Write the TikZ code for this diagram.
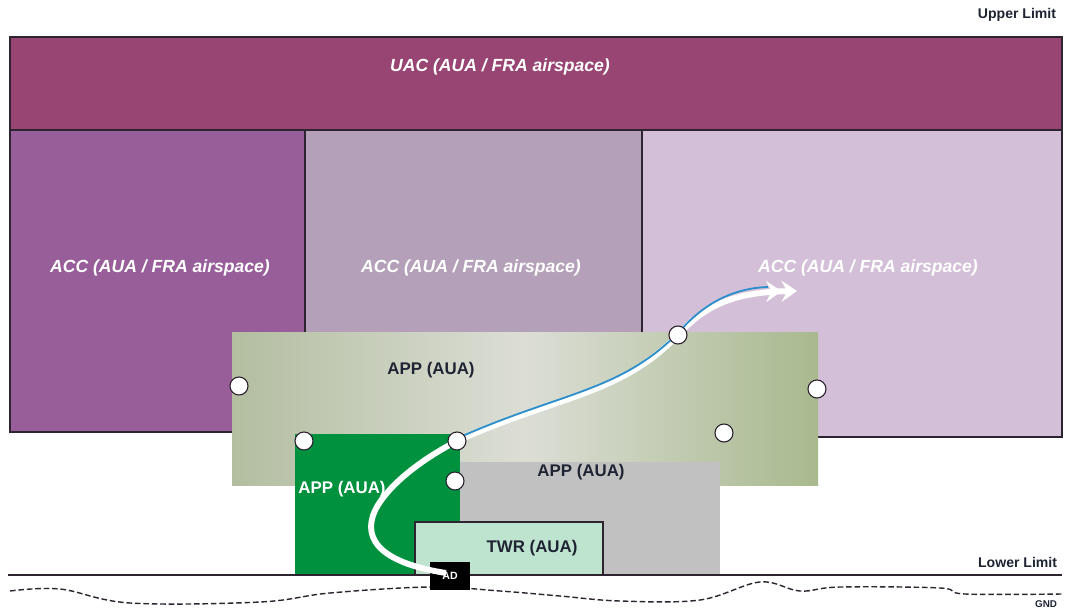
\documentclass[tikz,border=0pt]{standalone}
\usepackage{fontspec}
\setmainfont{Liberation Sans}
\usetikzlibrary{arrows.meta,positioning,calc}
\definecolor{Ink}{HTML}{1F2433}
\definecolor{Edge}{HTML}{2E2430}
\definecolor{Uac}{HTML}{984573}
\definecolor{AccOne}{HTML}{985E9A}
\definecolor{AccTwo}{HTML}{B4A0B8}
\definecolor{AccThree}{HTML}{D4BFD8}
\definecolor{AppLeft}{HTML}{B3BEA0}
\definecolor{AppMid}{HTML}{DCDED6}
\definecolor{AppRight}{HTML}{A8B98E}
\definecolor{AppGreen}{HTML}{00913F}
\definecolor{AppGrey}{HTML}{C1C1C1}
\definecolor{Twr}{HTML}{BEE3CF}
\definecolor{Track}{HTML}{2C8FCC}

\begin{document}
\begin{tikzpicture}[x=0.025cm, y=-0.025cm,
  every node/.style={font=\bfseries\fontsize{12}{14}\selectfont, text=Ink},
  sector/.style={font=\bfseries\itshape\fontsize{12.5}{14}\selectfont, text=white},
  limit/.style={font=\bfseries\fontsize{10}{12}\selectfont, anchor=east},
  spot/.style={circle, draw=Edge, fill=white, line width=0.8pt, minimum size=0.45cm, inner sep=0pt}]
\useasboundingbox (0,0) rectangle (1067,612);
\fill[white] (0,0) rectangle (1067,612);
% upper airspace
\filldraw[fill=Uac, draw=Edge, line width=0.8pt] (10,37) rectangle (1062,130);
\filldraw[fill=AccOne, draw=Edge, line width=0.8pt] (10,130) rectangle (305,432);
\filldraw[fill=AccTwo, draw=Edge, line width=0.8pt] (305,130) rectangle (642,432);
\filldraw[fill=AccThree, draw=Edge, line width=0.8pt] (642,130) rectangle (1062,437);
% approach and tower
\shade[left color=AppLeft, right color=AppRight, middle color=AppMid] (232,332) rectangle (818,485);
\fill[AppGreen] (295,434) rectangle (460,575);
\fill[AppGrey] (460,462) rectangle (720,575);
\filldraw[fill=Twr, draw=Edge, line width=0.8pt] (415,522) rectangle (603,575);
% limits
\draw[Edge, line width=1pt] (8,575) -- (1062,575);
\draw[Edge, line width=1pt, dash pattern=on 4pt off 2pt] plot[smooth, tension=0.6] coordinates {(10,591) (60,589) (130,603) (260,602) (330,593) (430,587) (500,591) (560,596) (620,601) (700,600) (760,582) (800,591) (840,587) (940,588) (965,594) (1062,594)};
\node[limit] (upper) at (1061,15) {Upper Limit};
\node[limit] (lower) at (1062,562) {Lower Limit};
\node[limit, font=\bfseries\fontsize{7}{8}\selectfont] (gnd) at (1062,604) {GND};
\node[fill=black, text=white, font=\bfseries\fontsize{7.5}{8}\selectfont, minimum width=1cm, minimum height=0.7cm, inner sep=0pt] (ad) at (450,576) {AD};
% labels
\node[sector] (uaclbl) at (500,67) {UAC (AUA / FRA airspace)};
\node[sector] (acc1lbl) at (160,268) {ACC (AUA / FRA airspace)};
\node[sector] (acc2lbl) at (471,268) {ACC (AUA / FRA airspace)};
\node[sector] (acc3lbl) at (868,268) {ACC (AUA / FRA airspace)};
\node (applbl) at (431,370) {APP (AUA)};
\node[text=white] (greenlbl) at (342,489) {APP (AUA)};
\node (greylbl) at (581,472) {APP (AUA)};
\node (twrlbl) at (532,548) {TWR (AUA)};
% flight path
\coordinate (dep) at (446,573);
\coordinate (exit) at (797,291);
\coordinate (s3) at (457,441);
\coordinate (s5) at (678,335);
\draw[white, line width=4.2pt, -{Stealth[length=11pt,width=15pt,inset=4pt]Stealth[length=11pt,width=15pt,inset=4pt]}]
  (dep) .. controls (375,562) and (360,535) .. (378,505)
  .. controls (395,478) and (430,455) .. (s3)
  .. controls (560,395) and (620,395) .. (s5)
  .. controls (705,305) and (735,292) .. (exit);
\draw[Track, line width=1.3pt]
  ($(s3)+(1,-3)$) .. controls (561,392) and (620,392) .. ($(s5)+(1,-3)$)
  .. controls (705,302) and (735,288) .. (768,287);
% waypoints
\node[spot] (w1) at (239,386) {};
\node[spot] (w2) at (304,441) {};
\node[spot] (w3) at (s3) {};
\node[spot] (w4) at (455,481) {};
\node[spot] (w5) at (s5) {};
\node[spot] (w6) at (817,389) {};
\node[spot] (w7) at (724,433) {};
\end{tikzpicture}
\end{document}
